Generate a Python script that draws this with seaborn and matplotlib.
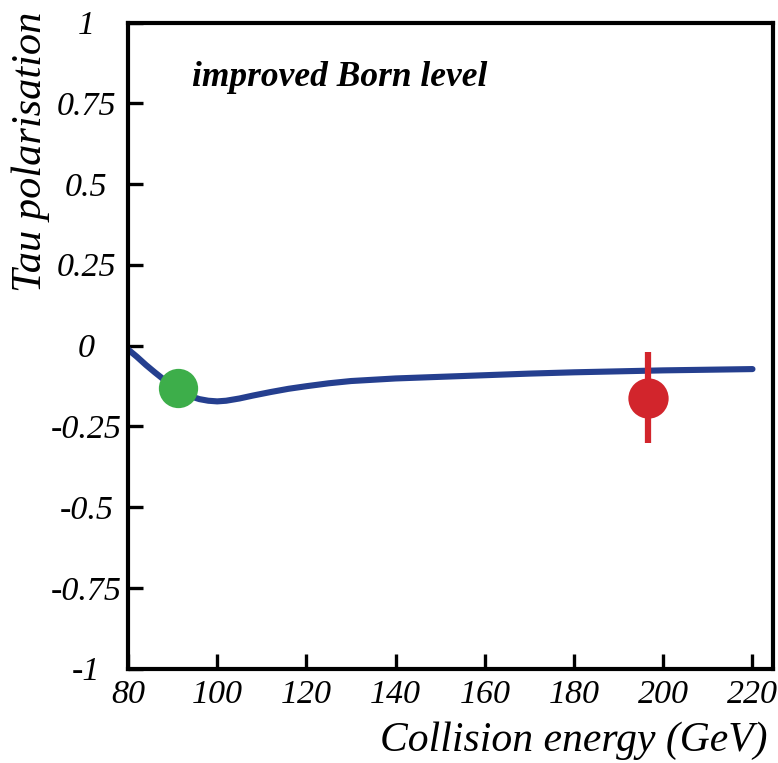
import matplotlib
matplotlib.use("Agg")
import matplotlib.pyplot as plt
import seaborn as sns
import pandas as pd

# Theoretical curve: tau polarisation vs collision energy (improved Born level)
energy = [80, 82, 84, 86, 88, 90, 92, 94, 96, 98, 100, 102, 105, 108, 112, 116,
          120, 125, 130, 140, 150, 160, 170, 180, 190, 200, 210, 220]
polarisation = [-0.012, -0.035, -0.060, -0.083, -0.105, -0.125, -0.143, -0.157,
                -0.166, -0.171, -0.173, -0.171, -0.164, -0.155, -0.144, -0.134,
                -0.126, -0.117, -0.110, -0.102, -0.097, -0.092, -0.087, -0.083,
                -0.080, -0.077, -0.075, -0.073]

# Measurements
lep1_energy = [91.2]
lep1_pol = [-0.133]
lep2_energy = [196.6]
lep2_pol = [-0.161]
lep2_err = [0.140]

x_ticks = [80, 100, 120, 140, 160, 180, 200, 220]
y_ticks = [-1, -0.75, -0.5, -0.25, 0, 0.25, 0.5, 0.75, 1]
y_tick_labels = ["-1", "-0.75", "-0.5", "-0.25", "0", "0.25", "0.5", "0.75", "1"]

sns.set_style("ticks")
plt.rcParams["font.family"] = ["Liberation Serif", "DejaVu Serif"]
plt.rcParams["text.color"] = "black"
plt.rcParams["axes.labelcolor"] = "black"
plt.rcParams["xtick.color"] = "black"
plt.rcParams["ytick.color"] = "black"

fig = plt.figure(figsize=(7.78, 7.63), dpi=100)
ax = fig.add_axes([128 / 778, 1 - 668.5 / 763, (773 - 128) / 778, (668.5 - 22.5) / 763])

curve = pd.DataFrame({"energy": energy, "polarisation": polarisation})
sns.lineplot(data=curve, x="energy", y="polarisation", ax=ax,
             color="#253f8f", linewidth=4.4, zorder=2)

lep1 = pd.DataFrame({"energy": lep1_energy, "polarisation": lep1_pol})
sns.scatterplot(data=lep1, x="energy", y="polarisation", ax=ax,
                color="#3dae4a", s=800, linewidth=0, zorder=3)

ax.errorbar(lep2_energy, lep2_pol, yerr=lep2_err, fmt="o", color="#d2252c",
            markersize=29, markeredgewidth=0, elinewidth=4.5, capsize=0, zorder=4)

ax.set_xlim(80, 224.6)
ax.set_ylim(-1, 1)
ax.set_xticks(x_ticks)
ax.set_xticklabels([str(t) for t in x_ticks])
ax.set_yticks(y_ticks)
ax.set_yticklabels(y_tick_labels)
ax.set_xlabel("")
ax.set_ylabel("")

for s in ax.spines.values():
    s.set_linewidth(3.0)
    s.set_color("black")

ax.tick_params(axis="both", direction="in", length=11, width=2.4, color="black",
               labelcolor="black", labelsize=24.5)
ax.tick_params(axis="x", pad=8)
ax.tick_params(axis="y", pad=30)
for lab in ax.get_xticklabels() + ax.get_yticklabels():
    lab.set_fontstyle("italic")
for lab in ax.get_yticklabels():
    lab.set_horizontalalignment("center")

fig.text(192 / 778, 1 - 86 / 763, "improved Born level",
         fontsize=25.5, fontstyle="italic", fontweight="bold", ha="left",
         va="baseline")

fig.text(768 / 778, 1 - 751 / 763, "Collision energy (GeV)", fontsize=30,
         fontstyle="italic", ha="right", va="baseline")
fig.text(31 / 778, 1 - 12 / 763, "Tau polarisation", fontsize=30.5,
         fontstyle="italic", rotation=90, ha="center", va="top")

fig.savefig("out.png", dpi=100)
